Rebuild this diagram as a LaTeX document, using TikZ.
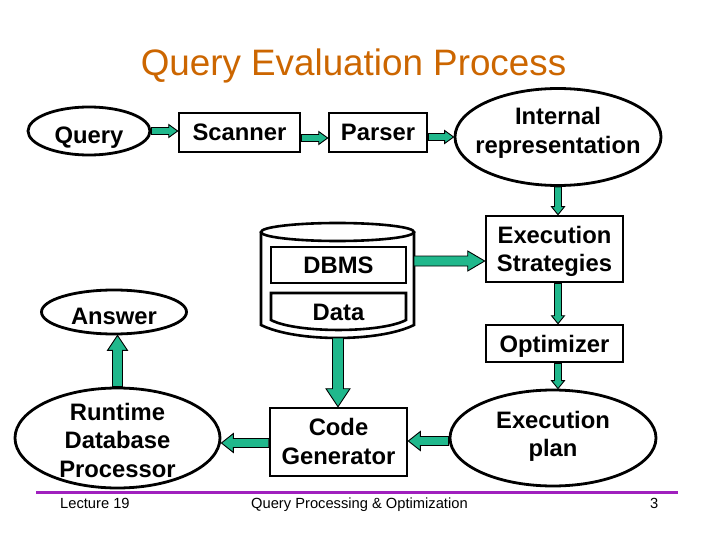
\documentclass[tikz,border=0pt]{standalone}
\usepackage{fontspec}
\setmainfont{Liberation Sans}
\usetikzlibrary{calc,shapes.geometric}
\definecolor{agreen}{RGB}{32,184,140}
\definecolor{torange}{RGB}{204,102,0}
\definecolor{fpurple}{RGB}{160,32,190}
\newcommand\fatarrow[5]{%
  \filldraw[fill=agreen,draw=black,line width=0.9pt,line join=miter]
   let \p1=#1, \p2=#2, \n1={atan2(\y2-\y1,\x2-\x1)}, \n2={veclen(\x2-\x1,\y2-\y1)} in
   [shift={(\p1)},rotate=\n1]
   (0,-#3) -- ({\n2-#5},-#3) -- ({\n2-#5},-#4) -- (\n2,0) -- ({\n2-#5},#4) -- ({\n2-#5},#3) -- (0,#3) -- cycle;}
\tikzset{
  lab/.style={font=\fontsize{23.8}{28.5}\selectfont\bfseries, inner sep=0pt},
  one/.style={lab, text height=17pt, text depth=0pt},
  multi/.style={lab, align=center},
  box/.style={draw, line width=2.6pt, rectangle, inner sep=0pt},
  ell/.style={draw, ellipse, line width=2.8pt, inner sep=0pt},
  foot/.style={font=\fontsize{14.7}{16}\selectfont, anchor=base west, inner sep=0pt},
}
\begin{document}
\begin{tikzpicture}[x=1pt,y=-1pt]
\fill[white] (0,0) rectangle (720,540);
\useasboundingbox (0,0) rectangle (720,540);

% title
\node[font=\fontsize{36.8}{40}\selectfont, text=torange, anchor=base, inner sep=0pt] (title) at (353.5,76) {Query Evaluation Process};

% top row
\node[ell, minimum width=122, minimum height=48] (q) at (89,131) {};
\node[one] (qt) at (89,135) {Query};
\node[box, one, minimum width=121, minimum height=39] (scan) at (239.5,132.5) {Scanner};
\node[box, one, minimum width=98, minimum height=39] (parser) at (378,132.5) {Parser};
\node[ell, minimum width=206, minimum height=97] (int) at (558,137) {};
\node[multi] (intt) at (558,133) {Internal\\representation};

% right column
\node[box, minimum width=137, minimum height=66] (exec) at (554.5,249) {};
\node[multi] (exect) at (554.5,251.5) {Execution\\Strategies};
\node[box, one, minimum width=137, minimum height=37] (opt) at (554.5,343.5) {Optimizer};
\node[ell, minimum width=206, minimum height=96] (plan) at (553,438) {};
\node[multi] (plant) at (553,436.5) {Execution\\plan};

% cylinder
\draw[line width=2.6pt] (261,232) -- (261,325) .. controls (296,342.3) and (379,342.3) .. (414,325) -- (414,232);
\draw[line width=2.6pt, fill=white] (337.5,232) ellipse [x radius=76.5, y radius=9];
\node[box, one, minimum width=135, minimum height=36] (dbms) at (338.5,265) {DBMS};
\draw[line width=2.6pt] (271,293) -- (271,320) .. controls (296,333.3) and (381,333.3) .. (406,320) -- (406,293) -- cycle;
\node[one] (data) at (338.5,311.5) {Data};
\coordinate (cylR) at (414,261);
\coordinate (cylB) at (338,338);

% bottom row
\node[box, minimum width=137, minimum height=68] (code) at (338.5,442) {};
\node[multi] (codet) at (338.5,441.4) {Code\\Generator};
\node[ell, minimum width=205, minimum height=100] (rt) at (117.5,438) {};
\node[multi] (rtt) at (117.5,440) {Runtime\\Database\\Processor};
\node[ell, minimum width=145, minimum height=44] (ans) at (114,312) {};
\node[one] (anst) at (114,315.5) {Answer};

% arrows
\fatarrow{(q.east)}{(q.east -| scan.west)}{3.5}{6.5}{9}
\fatarrow{([yshift=-5.5pt]scan.east)}{([yshift=-5.5pt]parser.west)}{3.5}{6.5}{9}
\fatarrow{(int.west -| parser.east)}{(int.west)}{3.5}{6.5}{9}
\fatarrow{(int.south)}{(int.south |- exec.north)}{3.5}{6.5}{8}
\fatarrow{(exec.south -| int.south)}{(opt.north -| int.south)}{3.5}{6.5}{8}
\fatarrow{(opt.south -| int.south)}{(plan.north -| int.south)}{3.5}{6.5}{8}
\fatarrow{(cylR)}{(cylR -| exec.west)}{5}{10}{17}
\fatarrow{(cylB)}{(cylB |- code.north)}{5.5}{12}{18}
\fatarrow{([yshift=-3pt]plan.west)}{([yshift=-3pt]plan.west -| code.east)}{4.5}{9.5}{12}
\fatarrow{([yshift=-1pt]code.west)}{([yshift=-1pt]code.west -| rt.east)}{4.5}{9.5}{12}
\fatarrow{(rt.north)}{(rt.north |- ans.south)}{5}{10}{15}

% footer
\draw[fpurple, line width=3pt] (36,492) -- (678,492);
\node[foot] (lec) at (60,508) {Lecture 19};
\node[foot] (qpo) at (251,508) {Query Processing \& Optimization};
\node[foot] (pg) at (650,508) {3};
\end{tikzpicture}
\end{document}
